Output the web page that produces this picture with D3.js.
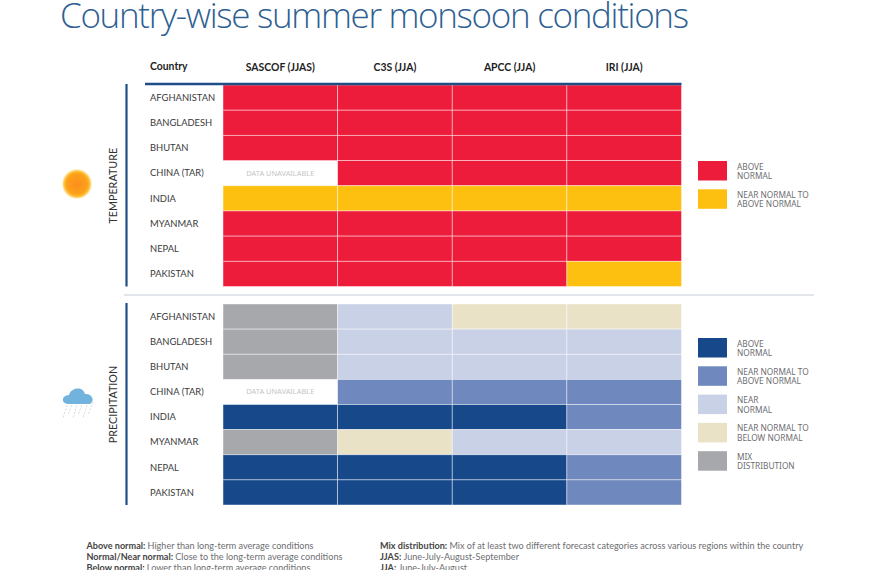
<!DOCTYPE html>
<html>
<head>
<meta charset="utf-8">
<script src="https://cdn.jsdelivr.net/npm/d3@7"></script>
<style>
    body { margin: 0; background: #fff; }
    svg { display: block; font-family: Lato, sans-serif; }
    .domain { display: none; }
    .tick line { display: none; }
</style>
</head>
<body>
<div id="chart"></div>
<script>
// Country-wise summer monsoon conditions
const width = 870;
const height = 570;

const countries = ['AFGHANISTAN', 'BANGLADESH', 'BHUTAN', 'CHINA (TAR)', 'INDIA', 'MYANMAR', 'NEPAL', 'PAKISTAN'];
const sources = ['SASCOF (JJAS)', 'C3S (JJA)', 'APCC (JJA)', 'IRI (JJA)'];

// rows follow countries, columns follow sources, null = data unavailable
const temperature = [
    ['above', 'above', 'above', 'above'],
    ['above', 'above', 'above', 'above'],
    ['above', 'above', 'above', 'above'],
    [null, 'above', 'above', 'above'],
    ['nearAbove', 'nearAbove', 'nearAbove', 'nearAbove'],
    ['above', 'above', 'above', 'above'],
    ['above', 'above', 'above', 'above'],
    ['above', 'above', 'above', 'nearAbove']
];
const precipitation = [
    ['mix', 'near', 'nearBelow', 'nearBelow'],
    ['mix', 'near', 'near', 'near'],
    ['mix', 'near', 'near', 'near'],
    [null, 'nearAbove', 'nearAbove', 'nearAbove'],
    ['above', 'above', 'above', 'nearAbove'],
    ['mix', 'nearBelow', 'near', 'near'],
    ['above', 'above', 'above', 'nearAbove'],
    ['above', 'above', 'above', 'nearAbove']
];

const tempCategories = ['above', 'nearAbove'];
const tempColors = ['#ee1c3b', '#fec010'];
const tempLabels = [['ABOVE', 'NORMAL'], ['NEAR NORMAL TO', 'ABOVE NORMAL']];

const rainCategories = ['above', 'nearAbove', 'near', 'nearBelow', 'mix'];
const rainColors = ['#17498a', '#6f88bd', '#c9d1e6', '#e9e2c7', '#a7a8ab'];
const rainLabels = [['ABOVE', 'NORMAL'], ['NEAR NORMAL TO', 'ABOVE NORMAL'], ['NEAR', 'NORMAL'], ['NEAR NORMAL TO', 'BELOW NORMAL'], ['MIX', 'DISTRIBUTION']];

const notesLeft = [
    ['Above normal:', 'Higher than long-term average conditions'],
    ['Normal/Near normal:', 'Close to the long-term average conditions'],
    ['Below normal:', 'Lower than long-term average conditions']
];
const notesRight = [
    ['Mix distribution:', 'Mix of at least two different forecast categories across various regions within the country'],
    ['JJAS:', 'June-July-August-September'],
    ['JJA:', 'June-July-August']
];

const navy = '#1f4e86';
const svg = d3.select('#chart').append('svg').attr('width', width).attr('height', height);

svg.append('text')
    .attr('x', 60).attr('y', 28)
    .attr('fill', '#2f5f93')
    .style('font-family', "'Open Sans', sans-serif")
    .style('font-weight', 300)
    .style('font-size', '35px')
    .attr('textLength', 629)
    .attr('lengthAdjust', 'spacing')
    .text('Country-wise summer monsoon conditions');

const x = d3.scaleBand().domain(sources).range([223, 681.5]);
const yTemp = d3.scaleBand().domain(countries).range([85, 286.5]);
const yRain = d3.scaleBand().domain(countries).range([304, 505]);

// column headers
const header = svg.append('g').attr('transform', 'translate(0,70.5)')
    .call(d3.axisTop(x).tickSize(0).tickPadding(0));
header.attr('font-family', null);
header.selectAll('text')
    .attr('fill', '#222')
    .style('font-size', '10.4px')
    .style('font-weight', 700);

svg.append('text')
    .attr('x', 150).attr('y', 70)
    .attr('fill', '#222')
    .style('font-size', '10.4px')
    .style('font-weight', 700)
    .text('Country');

function drawPanel(name, rows, y, colors, categories) {
    const color = d3.scaleOrdinal().domain(categories).range(colors);
    const g = svg.append('g');

    rows.forEach((row, i) => {
        const cells = row.map((value, j) => ({ value, source: sources[j], country: countries[i] }));

        g.selectAll(null)
            .data(cells.filter(d => d.value !== null))
            .enter()
            .append('rect')
            .attr('x', d => x(d.source))
            .attr('y', d => y(d.country))
            .attr('width', x.bandwidth())
            .attr('height', y.bandwidth())
            .attr('fill', d => color(d.value))
            .attr('stroke', '#fff')
            .attr('stroke-opacity', 0.55)
            .attr('stroke-width', 0.8);

        g.selectAll(null)
            .data(cells.filter(d => d.value === null))
            .enter()
            .append('text')
            .attr('x', d => x(d.source) + x.bandwidth() / 2)
            .attr('y', d => y(d.country) + y.bandwidth() / 2 + 2.5)
            .attr('text-anchor', 'middle')
            .attr('fill', '#c4c4c4')
            .style('font-family', "'Noto Sans', sans-serif")
            .style('font-size', '7.4px')
            .text('DATA UNAVAILABLE');
    });

    const left = svg.append('g').attr('transform', 'translate(150,0.2)')
        .call(d3.axisLeft(y).tickSize(0).tickPadding(0));
    left.attr('font-family', null);
    left.selectAll('text')
        .attr('text-anchor', 'start')
        .attr('fill', '#3a3a3a')
        .style('font-size', '9.4px');

    const [y0, y1] = y.range();
    svg.append('line')
        .attr('x1', 126.5).attr('x2', 126.5)
        .attr('y1', y0 - 1).attr('y2', y1)
        .attr('stroke', navy).attr('stroke-width', 2.2);

    svg.append('text')
        .attr('transform', `translate(117,${(y0 + y1) / 2}) rotate(-90)`)
        .attr('text-anchor', 'middle')
        .attr('fill', '#333')
        .style('font-size', '10.8px')
        .text(name);
}

drawPanel('TEMPERATURE', temperature, yTemp, tempColors, tempCategories);
drawPanel('PRECIPITATION', precipitation, yRain, rainColors, rainCategories);

// rule under the headers and between panels
svg.append('line').attr('x1', 145).attr('x2', 681.5).attr('y1', 84).attr('y2', 84)
    .attr('stroke', navy).attr('stroke-width', 2.4);
svg.append('line').attr('x1', 124).attr('x2', 814).attr('y1', 295).attr('y2', 295)
    .attr('stroke', '#c5ccd4').attr('stroke-width', 1);

function drawLegend(colors, labels, startY) {
    const g = svg.append('g');
    colors.forEach((c, i) => {
        const ty = startY + i * 28.3;
        g.append('rect').attr('x', 698).attr('y', ty).attr('width', 29).attr('height', 19.5).attr('fill', c);
        labels[i].forEach((line, k) => {
            g.append('text')
                .attr('x', 737).attr('y', ty + 8.5 + k * 9.6)
                .attr('fill', '#6d6e71')
                .style('font-family', "'Noto Sans', sans-serif")
                .style('font-size', '8.3px')
                .text(line);
        });
    });
}
drawLegend(tempColors, tempLabels, 161);
drawLegend(rainColors, rainLabels, 338);

// sun icon
const defs = svg.append('defs');
const sun = defs.append('radialGradient').attr('id', 'sun');
sun.append('stop').attr('offset', '0%').attr('stop-color', '#fb8f1c');
sun.append('stop').attr('offset', '68%').attr('stop-color', '#fca01a');
sun.append('stop').attr('offset', '82%').attr('stop-color', '#fdb92c');
sun.append('stop').attr('offset', '100%').attr('stop-color', '#fff8dc');
svg.append('circle').attr('cx', 77).attr('cy', 184).attr('r', 15).attr('fill', 'url(#sun)');

// rain icon
const rainIcon = svg.append('g').attr('transform', 'translate(78,398)');
const drops = [-12, -7, -2, 3, 8, 13];
drops.forEach((d, i) => {
    rainIcon.append('line')
        .attr('x1', d + 2).attr('x2', d - 3)
        .attr('y1', 4).attr('y2', 20 - (i % 2) * 3)
        .attr('stroke', '#d5dbe1').attr('stroke-width', 1)
        .attr('stroke-dasharray', '2 1.5');
});
rainIcon.append('path')
    .attr('d', 'M-10 6 C-17 6 -17 -3 -9 -3 C-7 -11 5 -12 7 -4 C13 -5 18 2 12 6 Z')
    .attr('fill', '#72b3dd');

// footnotes
function drawNotes(notes, nx) {
    notes.forEach((n, i) => {
        const t = svg.append('text')
            .attr('x', nx).attr('y', 549 + i * 11)
            .attr('fill', '#6d6e71')
            .style('font-size', '9.1px');
        t.append('tspan').attr('fill', '#444').style('font-weight', 700).text(n[0] + ' ');
        t.append('tspan').text(n[1]);
    });
}
drawNotes(notesLeft, 86.5);
drawNotes(notesRight, 380);
</script>
</body>
</html>
